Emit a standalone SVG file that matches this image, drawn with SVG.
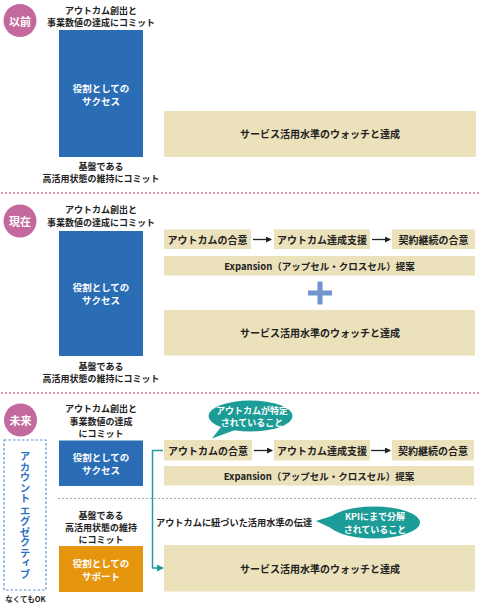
<svg xmlns="http://www.w3.org/2000/svg" width="480" height="606" viewBox="0 0 480 606">
<defs>
<style>
text{font-family:"Noto Sans CJK JP","Noto Sans",sans-serif;font-weight:700;dominant-baseline:central;}
.t{font-size:9px;fill:#222;text-anchor:middle;}
.w{font-size:9.5px;fill:#fff;text-anchor:middle;}
.b{font-size:10px;fill:#222;text-anchor:middle;}
.bw{font-size:9px;fill:#fff;text-anchor:middle;}
.badge{fill:#c4699d;}
.blue{fill:#2b6db5;}
.org{fill:#e6950f;}
.beige{fill:#ebe1bb;}
.teal{fill:#1b9c96;}
.sep{stroke:#d0679f;stroke-width:1.8;stroke-linecap:round;stroke-dasharray:0 4;fill:none;}
.arr{stroke:#222;stroke-width:1.3;fill:none;marker-end:url(#ah);}
</style>
<marker id="ah" markerWidth="6" markerHeight="6" refX="5" refY="3" orient="auto" markerUnits="userSpaceOnUse"><path d="M0,0 L6,3 L0,6 Z" fill="#222"/></marker>
<marker id="ht" markerWidth="7" markerHeight="7" refX="6" refY="3.5" orient="auto" markerUnits="userSpaceOnUse"><path d="M0,0 L7,3.5 L0,7 Z" fill="#1e9aa0"/></marker>
</defs>

<!-- separators -->
<line class="sep" x1="2" y1="193" x2="479" y2="193"/>
<line class="sep" x1="2" y1="393" x2="479" y2="393"/>
<line x1="58" y1="498.5" x2="478" y2="498.5" stroke="#aaa" stroke-width="1" stroke-dasharray="2 2"/>

<!-- Section 1 -->
<g id="badge-before"><circle class="badge" cx="20" cy="20.5" r="16.5"/><text x="20" y="20.5" style="font-size:11px;fill:#fff;text-anchor:middle;">以前</text></g>
<g id="label-top-1"><text class="t" x="101" y="10.5">アウトカム創出と</text><text class="t" x="101" y="22.5">事業数値の達成にコミット</text></g>
<g id="role-success-1"><rect class="blue" x="59" y="30" width="84" height="127"/><text class="w" x="101" y="87.5">役割としての</text><text class="w" x="101" y="100.5">サクセス</text></g>
<g id="label-bottom-1"><text class="t" x="101" y="166">基盤である</text><text class="t" x="101" y="178">高活用状態の維持にコミット</text></g>
<g id="watch-1"><rect class="beige" x="164" y="111" width="312" height="46"/><text class="b" x="320" y="133.5">サービス活用水準のウォッチと達成</text></g>

<!-- Section 2 -->
<g id="badge-now"><circle class="badge" cx="20" cy="221" r="16.5"/><text x="20" y="221" style="font-size:11px;fill:#fff;text-anchor:middle;">現在</text></g>
<g id="label-top-2"><text class="t" x="101" y="209.5">アウトカム創出と</text><text class="t" x="101" y="222">事業数値の達成にコミット</text></g>
<g id="role-success-2"><rect class="blue" x="59" y="231" width="84" height="125"/><text class="w" x="101" y="286.5">役割としての</text><text class="w" x="101" y="299.5">サクセス</text></g>
<g id="label-bottom-2"><text class="t" x="101" y="366">基盤である</text><text class="t" x="101" y="378">高活用状態の維持にコミット</text></g>
<g id="agree-2"><rect class="beige" x="164" y="229.5" width="87" height="19.5"/><text class="b" x="207.5" y="239.5">アウトカムの合意</text></g>
<g id="support-2"><rect class="beige" x="274" y="229.5" width="96" height="19.5"/><text class="b" x="322" y="239.5">アウトカム達成支援</text></g>
<g id="renew-2"><rect class="beige" x="392" y="229.5" width="83" height="19.5"/><text class="b" x="433.5" y="239.5">契約継続の合意</text></g>
<g id="expansion-2"><rect class="beige" x="164" y="256" width="311" height="19.5"/><text class="b" x="319.5" y="266" style="font-size:9.5px">Expansion（アップセル・クロスセル）提案</text></g>
<g id="plus"><rect x="308" y="290.5" width="24" height="5" fill="#6f94cf"/><rect x="317.5" y="281.5" width="5" height="23" fill="#6f94cf"/></g>
<g id="watch-2"><rect class="beige" x="164" y="310" width="311" height="45.5"/><text class="b" x="320" y="332.5">サービス活用水準のウォッチと達成</text></g>

<!-- Section 3 -->
<g id="badge-future"><circle class="badge" cx="20.5" cy="420" r="16.5"/><text x="20.5" y="420" style="font-size:11px;fill:#fff;text-anchor:middle;">未来</text></g>
<g id="account-exec"><rect x="4" y="440" width="42" height="150" fill="none" stroke="#5b90d2" stroke-width="1.2" stroke-dasharray="2.5 2"/><text x="25" y="515" style="font-size:10.5px;fill:#2f74c2;text-anchor:middle;writing-mode:vertical-rl;dominant-baseline:auto;">アカウント エグゼクティブ</text></g>
<g id="optional-note"><text x="25.5" y="598.5" style="font-size:7.5px;fill:#222;text-anchor:middle;">なくてもOK</text></g>
<g id="label-top-3"><text class="t" x="101" y="408.5">アウトカム創出と</text><text class="t" x="101" y="421">事業数値の達成</text><text class="t" x="101" y="433.5">にコミット</text></g>
<g id="role-success-3"><rect class="blue" x="59" y="440.5" width="84" height="45.5"/><text class="w" x="101" y="456.5">役割としての</text><text class="w" x="101" y="469.5">サクセス</text></g>
<g id="label-bottom-3"><text class="t" x="101" y="515">基盤である</text><text class="t" x="101" y="527">高活用状態の維持</text><text class="t" x="101" y="539">にコミット</text></g>
<g id="role-support-3"><rect class="org" x="59" y="546" width="84" height="46"/><text class="w" x="101" y="562.5">役割としての</text><text class="w" x="101" y="575.5">サポート</text></g>

<g id="bubble-outcome"><ellipse class="teal" cx="250.5" cy="416" rx="42" ry="15.5"/><polygon class="teal" points="221,427 212,438.5 235,430"/><text class="bw" x="252" y="410">アウトカムが特定</text><text class="bw" x="252" y="422.5">されていること</text></g>
<g id="agree-3"><rect class="beige" x="164" y="440" width="88" height="20.5"/><text class="b" x="208" y="450.5">アウトカムの合意</text></g>
<g id="support-3"><rect class="beige" x="274" y="440" width="96" height="20.5"/><text class="b" x="322" y="450.5">アウトカム達成支援</text></g>
<g id="renew-3"><rect class="beige" x="392" y="440" width="82" height="20.5"/><text class="b" x="433" y="450.5">契約継続の合意</text></g>
<g id="expansion-3"><rect class="beige" x="164" y="466" width="310" height="19.5"/><text class="b" x="319" y="476" style="font-size:9.5px">Expansion（アップセル・クロスセル）提案</text></g>
<g id="kpi-label"><text x="156" y="521.5" style="font-size:9.2px;fill:#222;">アウトカムに紐づいた活用水準の伝達</text></g>
<g id="bubble-kpi"><ellipse class="teal" cx="374" cy="522.5" rx="46" ry="16"/><polygon class="teal" points="335,515 316,521 333,529"/><text class="bw" x="375" y="516.5">KPIにまで分解</text><text class="bw" x="375" y="529">されていること</text></g>
<g id="watch-3"><rect class="beige" x="164" y="545" width="311" height="46.5"/><text class="b" x="320" y="568">サービス活用水準のウォッチと達成</text></g>

<!-- connectors -->
<g id="connectors">
<line class="arr" x1="253" y1="239.5" x2="271" y2="239.5"/>
<line class="arr" x1="372" y1="239.5" x2="390" y2="239.5"/>
<line class="arr" x1="254" y1="450.5" x2="272" y2="450.5"/>
<line class="arr" x1="371" y1="450.5" x2="390" y2="450.5"/>
<path d="M163,450.5 H152.5 V568 H163" fill="none" stroke="#1e9aa0" stroke-width="1.5" marker-end="url(#ht)"/>
</g>
</svg>
